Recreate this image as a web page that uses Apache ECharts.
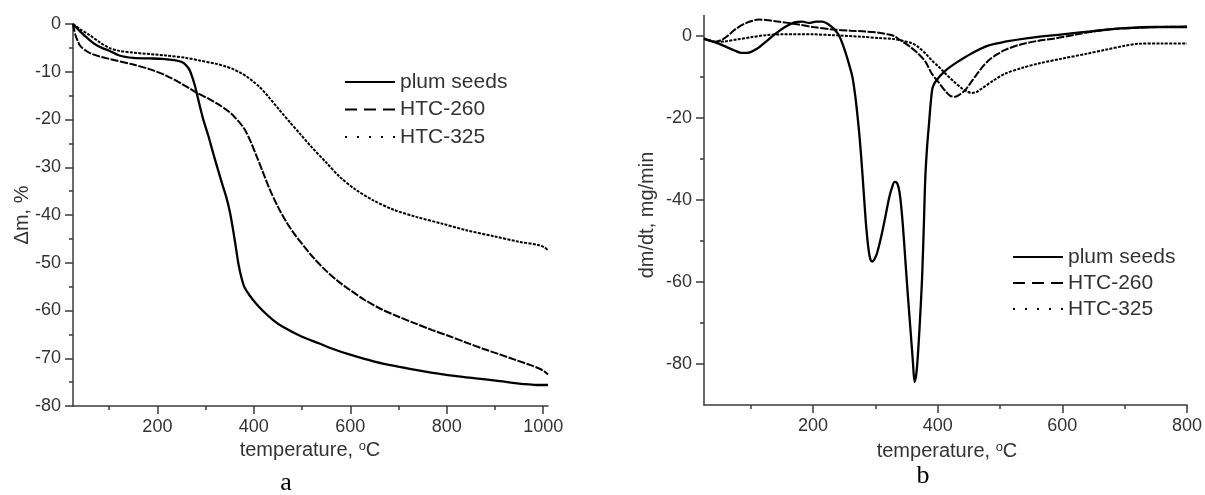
<!DOCTYPE html>
<html><head><meta charset="utf-8">
<script src="https://cdn.jsdelivr.net/npm/echarts@6/dist/echarts.min.js"></script>
<style>html,body{margin:0;padding:0;background:#fff}#c{width:1205px;height:495px}</style>
</head><body><div id="c"></div>
<script>
// ---- data ----
const seriesNames = ['plum seeds', 'HTC-260', 'HTC-325'];

// panel a: mass loss (%) vs temperature (°C)
const plumTG = [[25,0],[40,-1.6],[52,-2.7],[70,-4.2],[85,-5.0],[100,-5.6],[121,-6.6],[150,-7.1],[183,-7.2],[210,-7.3],[238,-7.6],[252,-8.0],[260,-8.7],[266,-9.5],[272,-11],[278,-13],[284,-15.5],[290,-18],[296,-20.3],[305,-23.2],[315,-26.8],[325,-30.3],[335,-33.7],[343,-36.3],[350,-39.2],[356,-42.5],[362,-46.3],[368,-50.2],[374,-53],[380,-55],[391,-56.8],[405,-58.6],[418,-60],[440,-62],[460,-63.4],[500,-65.5],[536,-66.9],[560,-67.9],[598,-69.2],[650,-70.7],[702,-71.8],[750,-72.7],[806,-73.6],[860,-74.2],[910,-74.8],[960,-75.4],[985,-75.6],[1010,-75.6]];
const htc260TG = [[25,0],[30,-2.3],[35,-3.6],[40,-4.6],[52,-5.6],[65,-6.3],[80,-6.8],[100,-7.3],[150,-8.5],[185,-9.5],[218,-10.8],[250,-12.5],[280,-14.3],[305,-15.6],[329,-17],[350,-18.5],[363,-19.8],[375,-21.2],[384,-22.6],[395,-25],[405,-27.5],[418,-30.8],[432,-34.4],[450,-38.3],[467,-41.4],[485,-44.1],[502,-46.3],[525,-49.1],[550,-51.7],[575,-53.9],[598,-55.6],[630,-57.8],[668,-59.9],[700,-61.3],[737,-62.8],[770,-64.1],[806,-65.4],[840,-66.7],[875,-68],[910,-69.2],[944,-70.4],[970,-71.3],[993,-72.2],[1003,-72.8],[1010,-73.4]];
const htc325TG = [[25,0],[40,-1.1],[59,-2.3],[80,-3.8],[100,-5.0],[120,-5.6],[150,-6.0],[218,-6.6],[260,-7.1],[290,-7.7],[320,-8.3],[342,-8.9],[356,-9.4],[370,-10.1],[385,-11],[398,-12],[412,-13.2],[430,-15.2],[453,-18],[475,-20.6],[495,-22.9],[520,-25.8],[550,-29],[578,-32],[610,-34.6],[647,-36.9],[690,-38.9],[737,-40.4],[790,-41.8],[841,-43.2],[900,-44.5],[950,-45.6],[990,-46.3],[1003,-46.8],[1010,-47.4]];

// panel b: dm/dt (mg/min) vs temperature (°C)
const plumDTG = [[25,-0.7],[35,-1.2],[44,-1.6],[60,-2.6],[75,-3.6],[85,-4.1],[95,-4.1],[110,-3.1],[125,-1.3],[140,0.6],[155,2.2],[170,3.3],[183,3.5],[193,3.2],[205,3.5],[215,3.5],[225,2.8],[233,1.8],[241,0.3],[247,-1.8],[252,-4],[257,-6.5],[263,-9.9],[268,-15],[273,-22],[277,-29],[281,-37.5],[285,-46],[289,-52],[292,-54.5],[295,-55],[299,-54.3],[303,-52.8],[310,-48.5],[316,-44.1],[322,-39.5],[327,-36.8],[331,-35.6],[334,-35.7],[337,-36.8],[340,-39.5],[344,-46],[348,-54.5],[352,-63],[356,-71],[360,-79],[363,-84.4],[366,-82],[369,-76],[372,-68],[375,-58.8],[378,-45],[380,-35],[383,-27],[386,-21.5],[389,-16],[392,-12.5],[398,-10.8],[412,-8.5],[430,-6.5],[455,-4.2],[482,-2.3],[508,-1.4],[545,-0.5],[600,0.4],[650,1.2],[700,1.9],[750,2.2],[800,2.2]];
const htc260DTG = [[25,-0.6],[44,-1.4],[55,-0.8],[65,0.3],[75,1.6],[90,3.0],[103,3.7],[113,4.0],[125,3.9],[140,3.6],[160,3.2],[177,2.8],[200,2.2],[231,1.6],[260,1.3],[284,1.1],[306,0.8],[320,0.4],[330,0],[338,-0.8],[348,-1.8],[358,-2.9],[368,-4.2],[380,-6.2],[391,-9.3],[401,-11.2],[410,-13],[420,-14.6],[428,-14.8],[436,-14.2],[444,-13.2],[452,-11.6],[460,-9.9],[471,-7.7],[482,-5.9],[495,-4.5],[508,-3.4],[530,-2.2],[560,-1.2],[588,-0.6],[620,0.3],[668,1.5],[720,2.0],[760,2.2],[800,2.3]];
const htc325DTG = [[25,-0.6],[44,-1.4],[60,-1.3],[80,-0.8],[100,-0.3],[124,0.2],[150,0.4],[200,0.4],[231,0.2],[280,-0.2],[306,-0.5],[327,-0.7],[345,-1.2],[359,-1.8],[368,-2.6],[380,-4.2],[391,-6.0],[401,-7.4],[412,-9.1],[425,-11],[439,-12.8],[448,-13.6],[455,-13.9],[463,-13.6],[471,-12.8],[490,-10.8],[508,-9.2],[535,-7.8],[562,-6.7],[600,-5.5],[640,-4.3],[668,-3.4],[700,-2.4],[722,-1.9],[760,-1.8],[800,-1.8]];

// tick values
const tgXMajor = [200, 400, 600, 800, 1000];
const tgXMinor = [100, 300, 500, 700, 900];
const dtgXMajor = [200, 400, 600, 800];
const dtgXMinor = [100, 300, 500, 700];
const dtgYMajor = [-80, -60, -40, -20, 0];
const dtgYMinor = [-70, -50, -30, -10];

// texts
const tgYTitle = 'Δm, %';
const dtgYTitle = 'dm/dt, mg/min';
const xTitleMain = 'temperature, ';
const panelLabels = ['a', 'b'];

// ---- chart ----
const FONT = '"Liberation Sans", Arial, sans-serif';
const AX = '#3a3a3a';
const TXT = '#333';
const chart = echarts.init(document.getElementById('c'), null, {renderer: 'canvas'});
const plain = v => String(v);

function lineAxis(extra) {
  return Object.assign({
    type: 'value',
    splitLine: {show: false},
    axisLine: {show: true, onZero: false, lineStyle: {color: AX, width: 1.5}},
    axisTick: {show: true, inside: false, length: 8, lineStyle: {color: AX, width: 1.5}},
    axisLabel: {fontSize: 18, color: TXT, fontFamily: FONT, margin: 12, formatter: plain},
  }, extra);
}
function minorAxis(extra, vals) {
  return Object.assign({
    type: 'value',
    splitLine: {show: false},
    axisLine: {show: false, onZero: false},
    axisTick: {show: true, inside: false, length: 4, customValues: vals, lineStyle: {color: AX, width: 1.5}},
    axisLabel: {show: false},
  }, extra);
}

const styles = [
  {color: '#000', width: 2.3, type: 'solid'},
  {color: '#000', width: 2, type: [8, 1.5]},
  {color: '#000', width: 2, type: [3, 1.3]}
];
const legendStyles = [
  {width: 2, type: 'solid', color: '#000'},
  {width: 2, type: [12, 7], color: '#000'},
  {width: 2, type: [2, 10], color: '#000'}
];

function mkSeries(name, data, i, xi, yi) {
  return {
    name, type: 'line', data, xAxisIndex: xi, yAxisIndex: yi,
    symbol: 'none', showSymbol: false, smooth: 0.3,
    lineStyle: styles[i], itemStyle: {color: '#000'}, z: 3 - i,
    emphasis: {disabled: true}
  };
}

function mkLegend(left, top, gap) {
  return {
    orient: 'vertical', left, top, padding: 0, itemWidth: 50, itemHeight: 14, itemGap: gap,
    selectedMode: false,
    textStyle: {fontSize: 21, color: TXT, fontFamily: FONT, lineHeight: 22},
    data: seriesNames.map((n, i) => ({
      name: n, lineStyle: legendStyles[i],
      itemStyle: {color: 'rgba(0,0,0,0)', borderWidth: 0, opacity: 0}
    }))
  };
}

const supRich = {
  b: {fontSize: 20, fontFamily: FONT, fill: TXT},
  s: {fontSize: 13, fontFamily: FONT, fill: TXT, verticalAlign: 'top', lineHeight: 20}
};

chart.setOption({
  animation: false,
  backgroundColor: '#fff',
  grid: [
    {left: 73, top: 24, width: 475, height: 382},
    {left: 704, top: 15.5, width: 485, height: 389.5}
  ],
  xAxis: [
    lineAxis({gridIndex: 0, min: 25, max: 1010, position: 'bottom',
      axisTick: {show: true, inside: false, length: 8, customValues: tgXMajor, lineStyle: {color: AX, width: 1.5}},
      axisLabel: {fontSize: 18, color: TXT, fontFamily: FONT, margin: 12, customValues: tgXMajor, formatter: plain}}),
    minorAxis({gridIndex: 0, min: 25, max: 1010, position: 'bottom'}, tgXMinor),
    lineAxis({gridIndex: 1, min: 25, max: 800, position: 'bottom',
      axisTick: {show: true, inside: false, length: 8, customValues: dtgXMajor, lineStyle: {color: AX, width: 1.5}},
      axisLabel: {fontSize: 18, color: TXT, fontFamily: FONT, margin: 12, customValues: dtgXMajor, formatter: plain}}),
    minorAxis({gridIndex: 1, min: 25, max: 800, position: 'bottom'}, dtgXMinor)
  ],
  yAxis: [
    lineAxis({gridIndex: 0, min: -80, max: 0, interval: 10, position: 'left',
      minorTick: {show: true, splitNumber: 2, length: 4, lineStyle: {color: AX, width: 1.5}}}),
    lineAxis({gridIndex: 1, min: -90, max: 5, position: 'left',
      axisTick: {show: true, inside: false, length: 8, customValues: dtgYMajor, lineStyle: {color: AX, width: 1.5}},
      axisLabel: {fontSize: 18, color: TXT, fontFamily: FONT, margin: 12, customValues: dtgYMajor, formatter: plain}}),
    minorAxis({gridIndex: 1, min: -90, max: 5, position: 'left'}, dtgYMinor)
  ],
  legend: [mkLegend(344, 71, 5.5), mkLegend(1012, 246, 4)],
  series: [
    mkSeries(seriesNames[0], plumTG, 0, 0, 0),
    mkSeries(seriesNames[1], htc260TG, 1, 0, 0),
    mkSeries(seriesNames[2], htc325TG, 2, 0, 0),
    mkSeries(seriesNames[0], plumDTG, 0, 2, 1),
    mkSeries(seriesNames[1], htc260DTG, 1, 2, 1),
    mkSeries(seriesNames[2], htc325DTG, 2, 2, 1)
  ],
  graphic: [
    {type: 'text', x: 22, y: 215, rotation: Math.PI / 2, silent: true,
      style: {text: tgYTitle, font: '20px ' + FONT, fill: TXT, textAlign: 'center', textVerticalAlign: 'middle'}},
    {type: 'text', x: 647, y: 215, rotation: Math.PI / 2, silent: true,
      style: {text: dtgYTitle, font: '20px ' + FONT, fill: TXT, textAlign: 'center', textVerticalAlign: 'middle'}},
    {type: 'text', x: 310, y: 450, silent: true,
      style: {text: '{b|' + xTitleMain + '}{s|o}{b|C}', rich: supRich, textAlign: 'center', textVerticalAlign: 'middle'}},
    {type: 'text', x: 947, y: 451, silent: true,
      style: {text: '{b|' + xTitleMain + '}{s|o}{b|C}', rich: supRich, textAlign: 'center', textVerticalAlign: 'middle'}},
    {type: 'text', x: 286, y: 483, silent: true,
      style: {text: panelLabels[0], font: '26px "Liberation Serif", "Times New Roman", serif', fill: '#000', textAlign: 'center', textVerticalAlign: 'middle'}},
    {type: 'text', x: 923, y: 476, silent: true,
      style: {text: panelLabels[1], font: '26px "Liberation Serif", "Times New Roman", serif', fill: '#000', textAlign: 'center', textVerticalAlign: 'middle'}}
  ]
});
</script></body></html>
